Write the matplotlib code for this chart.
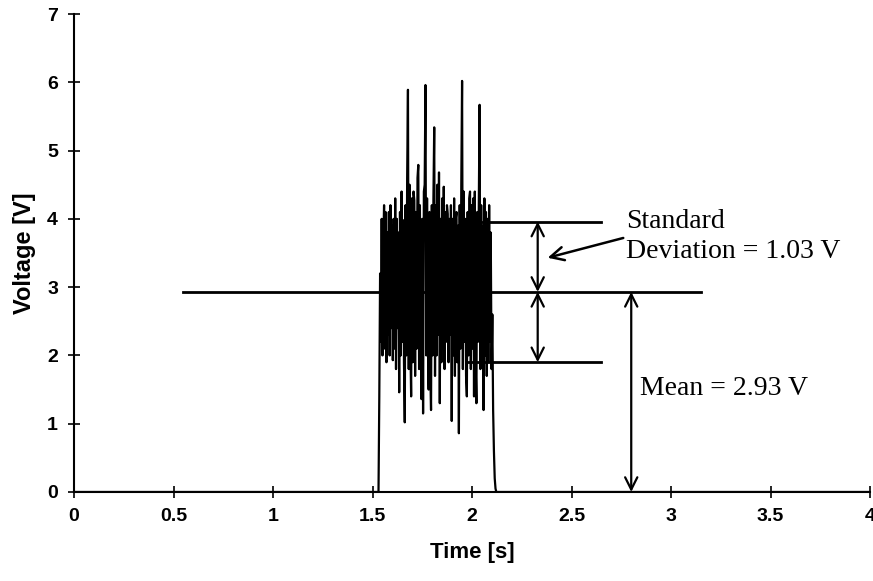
import numpy as np
import matplotlib
matplotlib.use("Agg")
import matplotlib.pyplot as plt

# ---- data ----
burst_start, burst_end = 1.530, 2.122
voltage_burst = [
    0, 1.4, 3.2, 2.2, 4.0, 2.0, 3.6, 4.2, 2.1, 4.1,
    1.9, 3.8, 2.3, 4.1, 2.0, 4.2, 2.4, 3.9, 1.93, 4.0,
    2.1, 4.3, 1.8, 4.0, 2.4, 3.8, 1.46, 4.1, 2.0, 4.4,
    2.2, 3.98, 1.9, 1.02, 4.2, 2.0, 4.6, 5.89, 1.8, 4.5,
    2.2, 1.4, 4.3, 1.9, 4.4, 4.27, 1.7, 4.1, 2.1, 4.6,
    4.79, 1.8, 4.2, 2.3, 1.36, 4.0, 1.15, 4.4, 4.5, 5.96,
    2.0, 4.3, 2.2, 1.5, 4.1, 1.8, 1.2, 4.2, 2.0, 4.3,
    5.34, 1.7, 4.2, 2.0, 4.5, 2.3, 4.68, 1.3, 4.0, 1.9,
    4.3, 2.1, 4.47, 1.8, 4.1, 2.2, 4.2, 4.07, 1.9, 4.0,
    2.3, 4.2, 1.04, 4.0, 2.0, 4.3, 1.7, 4.0, 4.1, 1.9,
    3.9, 0.86, 4.2, 2.1, 4.5, 6.02, 1.8, 4.4, 2.2, 4.0,
    1.7, 1.4, 4.1, 2.0, 4.3, 4.4, 1.8, 4.2, 2.1, 4.3,
    1.4, 4.4, 1.9, 1.3, 4.1, 2.2, 4.2, 5.67, 1.8, 4.2,
    2.1, 3.9, 1.2, 4.3, 2.0, 4.1, 1.7, 4.0, 1.9, 4.2,
    2.2, 3.8, 1.8, 2.6, 1.2, 0.6, 0.2, 0.05, 0,
]
t_burst = np.linspace(burst_start, burst_end, len(voltage_burst))
time = np.concatenate([[0.0], t_burst, [4.0]])
voltage = np.concatenate([[0.0], voltage_burst, [0.0]])

mean_v = 2.93
std_v = 1.03
x_ticks = [0, 0.5, 1, 1.5, 2, 2.5, 3, 3.5, 4]
x_tick_labels = ["0", "0.5", "1", "1.5", "2", "2.5", "3", "3.5", "4"]
y_ticks = [0, 1, 2, 3, 4, 5, 6, 7]

sans = ["Liberation Sans", "DejaVu Sans"]
serif = ["Liberation Serif", "DejaVu Serif"]

fig = plt.figure(figsize=(8.73, 5.81), dpi=100)
ax = fig.add_axes([0.0848, 0.1532, 0.9118, 0.8227])

ax.plot(time, voltage, color="black", lw=1.6)

# mean and std lines
ax.plot([0.55, 3.15], [mean_v, mean_v], color="black", lw=2)
ax.plot([1.97, 2.65], [mean_v + std_v, mean_v + std_v], color="black", lw=2)
ax.plot([1.97, 2.65], [mean_v - std_v, mean_v - std_v], color="black", lw=2)

arrow = dict(arrowstyle="<->", color="black", lw=1.6, mutation_scale=22,
             shrinkA=0, shrinkB=0)
ax.annotate("", xy=(2.33, mean_v + std_v), xytext=(2.33, mean_v), arrowprops=arrow)
ax.annotate("", xy=(2.33, mean_v), xytext=(2.33, mean_v - std_v), arrowprops=arrow)
ax.annotate("", xy=(2.80, mean_v), xytext=(2.80, 0), arrowprops=arrow)
ax.annotate("", xy=(2.38, 3.43), xytext=(2.76, 3.72),
            arrowprops=dict(arrowstyle="->", color="black", lw=1.8,
                            mutation_scale=24, shrinkA=0, shrinkB=0))

ax.text(2.774, 3.74, "Standard\nDeviation = 1.03 V", family=serif, fontsize=20,
        ha="left", va="center", linespacing=1.25)
ax.text(2.844, 1.52, "Mean = 2.93 V", family=serif, fontsize=20,
        ha="left", va="center")

ax.set_xlim(0, 4)
ax.set_ylim(0, 7)
ax.set_xticks(x_ticks)
ax.set_xticklabels(x_tick_labels)
ax.set_yticks(y_ticks)
for s in ["top", "right"]:
    ax.spines[s].set_visible(False)
for s in ["left", "bottom"]:
    ax.spines[s].set_linewidth(1.5)
ax.tick_params(direction="inout", length=9, width=1.2, labelsize=14)
ax.tick_params(axis="x", pad=7)
ax.tick_params(axis="y", pad=7)
for lab in ax.get_xticklabels() + ax.get_yticklabels():
    lab.set_family(sans)
    lab.set_fontweight("bold")

ax.set_xlabel("Time [s]", family=sans, fontsize=16, fontweight="bold", labelpad=12)
ax.set_ylabel("Voltage [V]", family=sans, fontsize=17, fontweight="bold", labelpad=8)

fig.savefig("out.png", dpi=100)
